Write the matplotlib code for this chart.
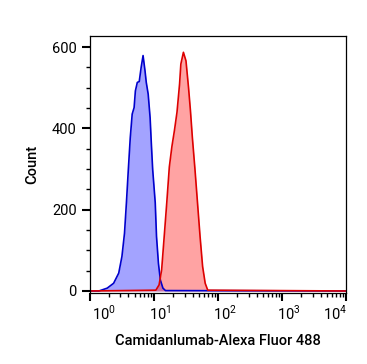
import numpy as np
import matplotlib
matplotlib.use("Agg")
import matplotlib.pyplot as plt
import matplotlib.transforms as mtransforms
from matplotlib.ticker import LogLocator, FixedLocator, MultipleLocator

plt.rcParams['font.family'] = ['Roboto', 'DejaVu Sans']
plt.rcParams['mathtext.fontset'] = 'custom'
plt.rcParams['mathtext.rm'] = 'Roboto'

# histogramme isotype (bleu) : log10(intensite) et nombre d'evenements
bleu_log = [0.0, 0.14, 0.27, 0.37, 0.45, 0.50, 0.54, 0.57, 0.60, 0.63, 0.66, 0.69,
            0.71, 0.74, 0.77, 0.80, 0.83, 0.86, 0.88, 0.91, 0.94, 0.96, 0.98,
            1.02, 1.04, 1.07, 1.10, 1.14, 1.18, 4.0]
bleu_count = [0, 0, 7, 19, 44, 85, 142, 217, 299, 377, 435, 451,
              492, 513, 515, 550, 579, 542, 513, 484, 426, 360, 299,
              217, 134, 68, 27, 7, 1, 0]

# histogramme anticorps (rouge)
rouge_log = [0.0, 1.03, 1.08, 1.12, 1.16, 1.20, 1.24, 1.28, 1.32, 1.36, 1.40,
             1.42, 1.46, 1.50, 1.54, 1.57, 1.60, 1.64, 1.68, 1.72, 1.76,
             1.80, 1.84, 4.0]
rouge_count = [0, 2, 15, 52, 134, 217, 305, 355, 395, 440, 509,
               558, 587, 566, 500, 443, 377, 300, 217, 134, 60,
               19, 2, 0]

xtick_labels = [r'$10^{0}$', r'$10^{1}$', r'$10^{2}$', r'$10^{3}$', r'$10^{4}$']

fig = plt.figure(figsize=(3.67, 3.64), dpi=100)
ax = fig.add_axes([0.245, 0.195, 0.698, 0.706])

xb = 10 ** np.array(bleu_log)
xr = 10 ** np.array(rouge_log)
ax.fill_between(xb, bleu_count, color='#3333ff', alpha=0.45, lw=0)
ax.plot(xb, bleu_count, color='#0000cc', lw=1.2)
ax.fill_between(xr, rouge_count, color='#ff3333', alpha=0.45, lw=0)
ax.plot(xr, rouge_count, color='#dd0000', lw=1.2)

ax.set_xscale('log')
ax.set_xlim(1, 1e4)
ax.set_ylim(-5, 627)

ax.xaxis.set_major_locator(FixedLocator([1, 10, 100, 1000, 10000]))
ax.set_xticklabels(xtick_labels)
ax.xaxis.set_minor_locator(LogLocator(base=10, subs=np.arange(2, 10)))
ax.xaxis.set_minor_formatter(plt.NullFormatter())
ax.yaxis.set_major_locator(MultipleLocator(200))
ax.yaxis.set_minor_locator(MultipleLocator(50))

ax.tick_params(which='major', length=6, width=1.5, labelsize=10.5, direction='out')
ax.tick_params(which='minor', length=3, width=1, direction='out')
ax.tick_params(axis='x', pad=2)
for s in ax.spines.values():
    s.set_linewidth(0.9)

# decalage des etiquettes comme dans l'original (en pixels)
decalages = [14, 6, 7, 7, -11]
for lab, dx in zip(ax.get_xticklabels(), decalages):
    lab.set_transform(lab.get_transform() +
                      mtransforms.ScaledTranslation(dx / 100, 0, fig.dpi_scale_trans))

ax.set_xlabel('Camidanlumab-Alexa Fluor 488', fontsize=10.5, fontweight='medium', labelpad=8)
ax.set_ylabel('Count', fontsize=10.5, fontweight='medium', labelpad=9)

fig.savefig('out.png', dpi=100)
